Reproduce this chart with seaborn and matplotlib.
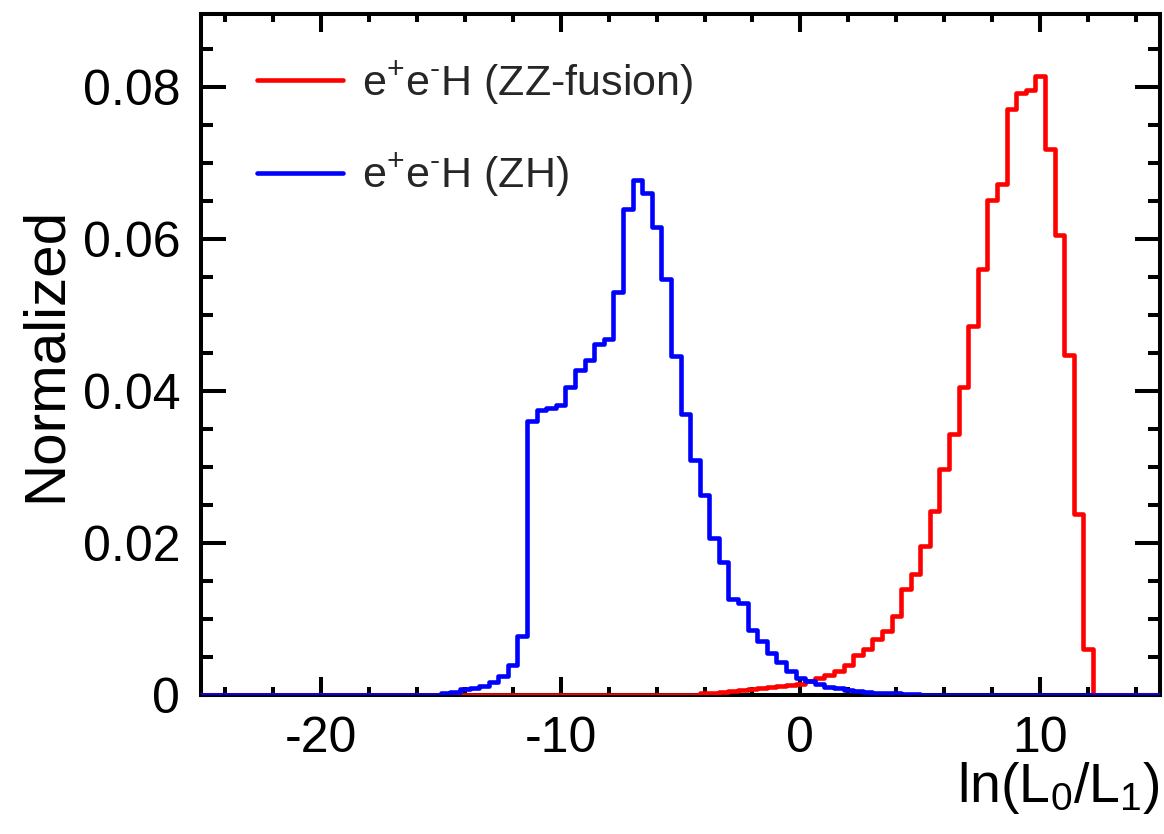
import numpy as np
import pandas as pd
import seaborn as sns
import matplotlib
matplotlib.use('Agg')
import matplotlib.pyplot as plt
from matplotlib.ticker import MultipleLocator, FuncFormatter

# histogram range: 100 bins from -25 to 15
x_lo, x_hi, n_bins = -25, 15, 100

# ZZ-fusion (red), normalised bin contents
zz_vals = [0.0] * 52 + [
    0.0002, 0.0003, 0.0004, 0.0005, 0.0006, 0.0008, 0.0009, 0.0010, 0.0012, 0.0013,
    0.0015, 0.0019, 0.0022, 0.0026, 0.0031, 0.0039, 0.0052, 0.0060, 0.0073, 0.0084,
    0.0104, 0.0140, 0.0159, 0.0196, 0.0242, 0.0297, 0.0344, 0.0405, 0.0486, 0.0560,
    0.0651, 0.0672, 0.0771, 0.0792, 0.0796, 0.0814, 0.0719, 0.0605, 0.0447, 0.0238,
    0.0060] + [0.0] * 7

# ZH (blue)
zh_vals = [0.0] * 25 + [
    0.0003, 0.0004, 0.0008, 0.0009, 0.0012, 0.0017, 0.0025, 0.0039, 0.0077, 0.0360,
    0.0375, 0.0378, 0.0382, 0.0405, 0.0427, 0.0441, 0.0462, 0.0469, 0.0530, 0.0640,
    0.0678, 0.0661, 0.0616, 0.0547, 0.0446, 0.0370, 0.0309, 0.0263, 0.0206, 0.0175,
    0.0126, 0.0121, 0.0086, 0.0071, 0.0055, 0.0044, 0.0031, 0.0022, 0.0018, 0.0014,
    0.0011, 0.0009, 0.0007, 0.0005, 0.0004, 0.0003, 0.0002, 0.0002, 0.0001, 0.0001] + [0.0] * 25

labels = ['e$^{\\mathregular{+}}$e$^{\\mathregular{\u2010}}$H (ZZ-fusion)',
          'e$^{\\mathregular{+}}$e$^{\\mathregular{\u2010}}$H (ZH)']
colors = ['red', 'blue']

edges = np.linspace(x_lo, x_hi, n_bins + 1)
centers = 0.5 * (edges[:-1] + edges[1:])

sns.set_style('white')
plt.rcParams['font.family'] = ['Liberation Sans', 'DejaVu Sans']
plt.rcParams['mathtext.fontset'] = 'custom'
plt.rcParams['mathtext.rm'] = 'Liberation Sans'
plt.rcParams['mathtext.it'] = 'Liberation Sans:italic'
plt.rcParams['axes.unicode_minus'] = False

fig = plt.figure(figsize=(11.64, 8.34), dpi=100)
ax = fig.add_axes([0.1727, 0.1667, 0.8239, 0.8165])

for vals, lab, col in zip([zz_vals, zh_vals], labels, colors):
    df = pd.DataFrame({'x': centers, 'w': vals})
    sns.histplot(data=df, x='x', weights='w', bins=n_bins, binrange=(x_lo, x_hi),
                 element='step', fill=False, color=col, linewidth=3.3, label=lab,
                 zorder=3, ax=ax)

ax.set_xlim(x_lo, x_hi)
ax.set_ylim(0, 0.0896)

for sp in ax.spines.values():
    sp.set_linewidth(2.9)
    sp.set_color('black')

ax.xaxis.set_major_locator(MultipleLocator(10))
ax.xaxis.set_minor_locator(MultipleLocator(2))
ax.yaxis.set_major_locator(MultipleLocator(0.02))
ax.yaxis.set_minor_locator(MultipleLocator(0.005))
ax.yaxis.set_major_formatter(FuncFormatter(lambda v, p: '0' if abs(v) < 1e-9 else f'{v:.2f}'))
ax.xaxis.set_major_formatter(FuncFormatter(lambda v, p: f'{v:.0f}'))

ax.tick_params(which='both', direction='in', bottom=True, left=True, top=True, right=True,
               width=2.9, color='black', labelcolor='black')
ax.tick_params(axis='x', which='major', length=13, pad=15, labelsize=36)
ax.tick_params(axis='x', which='minor', length=6)
ax.tick_params(axis='y', which='major', length=18, pad=15, labelsize=36)
ax.tick_params(axis='y', which='minor', length=8.6)

ax.set_ylabel('Normalized', fontsize=42, color='black')
ax.yaxis.set_label_coords(-0.134, 0.5)
ax.set_xlabel(r'ln(L$_{\mathregular{0}}$/L$_{\mathregular{1}}$)', fontsize=40, ha='right',
              color='black')
ax.xaxis.set_label_coords(1.0, -0.095)

ax.legend(loc='upper left', bbox_to_anchor=(0.0584, 0.934), frameon=False, fontsize=31,
          handlelength=2.0, handletextpad=0.44, labelspacing=1.05,
          borderpad=0, borderaxespad=0)

fig.savefig('out.png', dpi=100)
